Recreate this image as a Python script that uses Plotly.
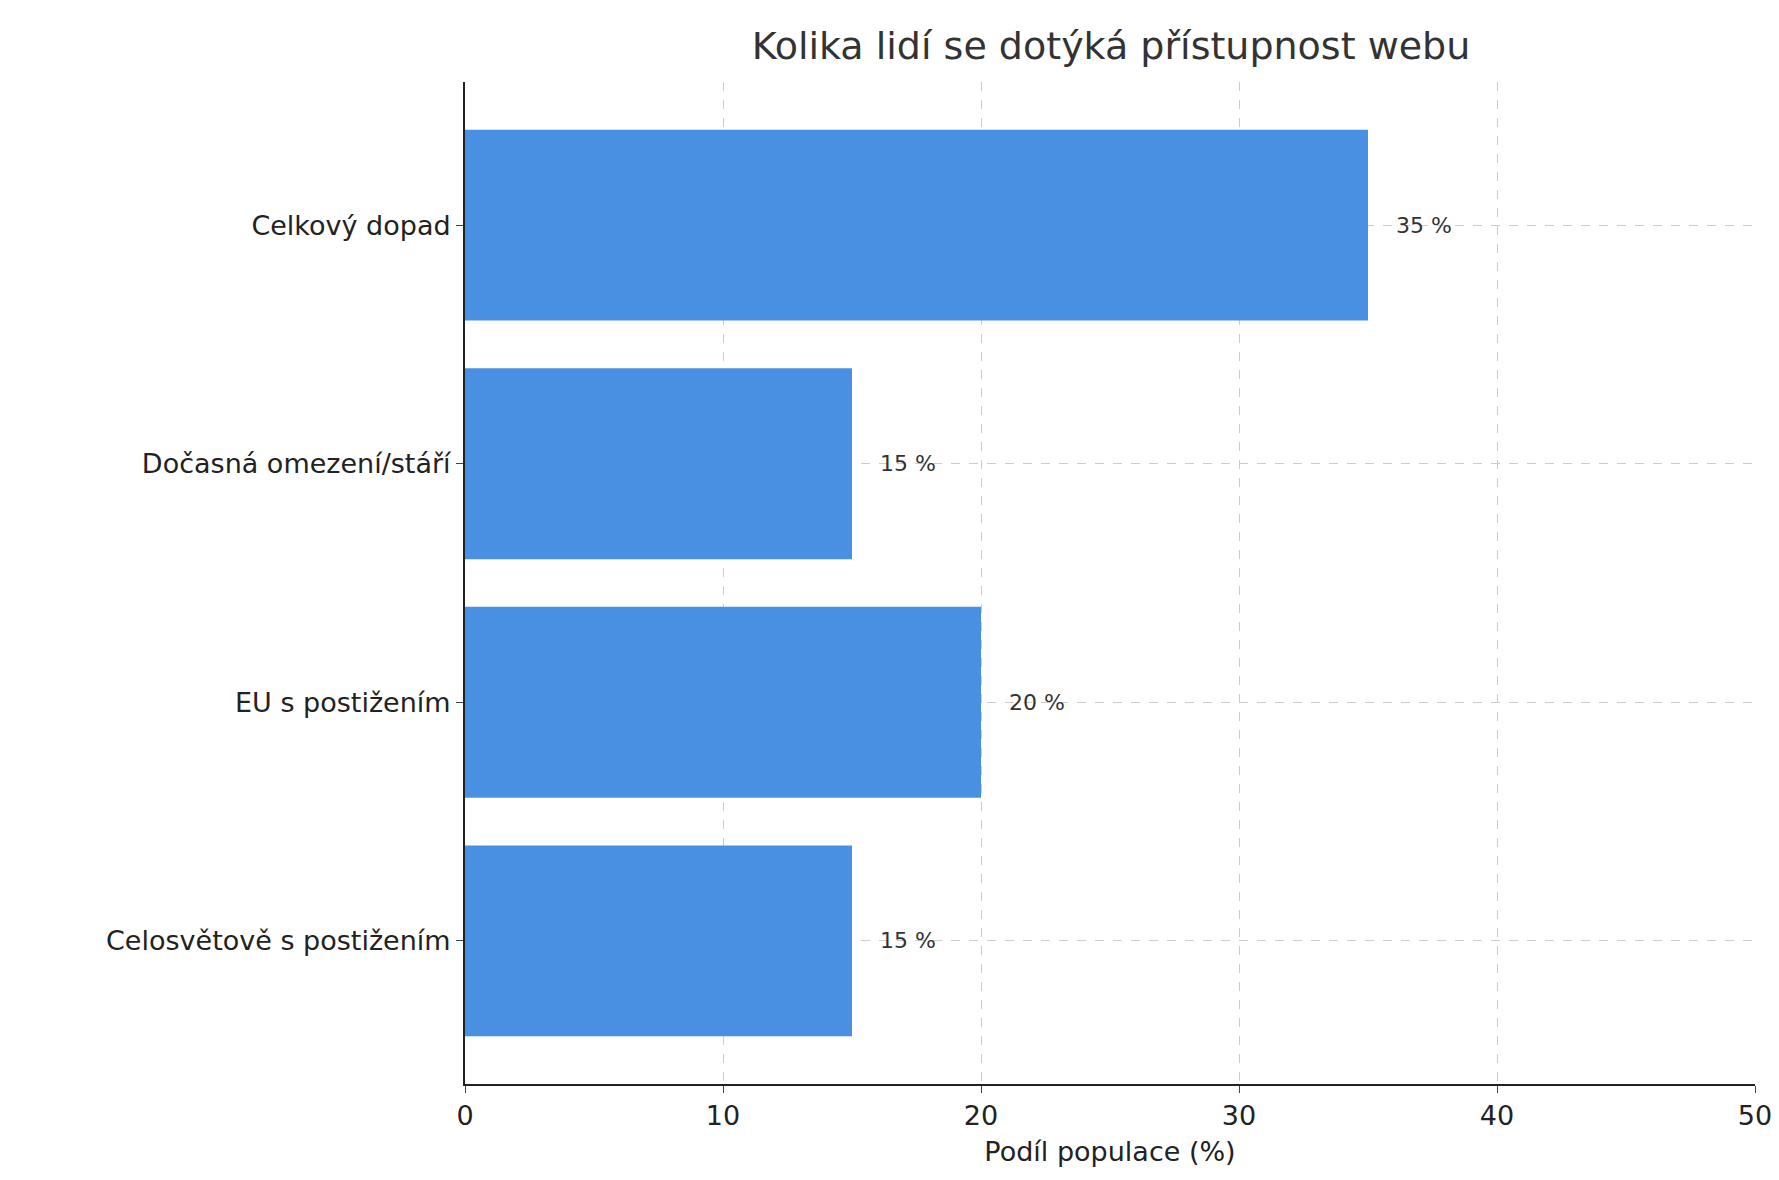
import plotly.graph_objects as go

categories = ["Celosvětově s postižením", "EU s postižením", "Dočasná omezení/stáří", "Celkový dopad"]
values = [15, 20, 15, 35]
labels = [f"{v} %" for v in values]

fig = go.Figure(go.Bar(
    x=values, y=categories, orientation="h", width=0.8,
    marker=dict(color="#4a90e2", line=dict(width=0)),
))
for c, v, t in zip(categories, values, labels):
    fig.add_annotation(x=v + 1, y=c, text=t, showarrow=False, xanchor="left",
                       font=dict(size=22, color="#333333", family="DejaVu Sans"))

fig.update_layout(
    width=1779, height=1180,
    paper_bgcolor="white", plot_bgcolor="white",
    margin=dict(l=457, r=32, t=74, b=104),
    font=dict(family="DejaVu Sans", color="#222222"),
    title=dict(text="Kolika lidí se dotýká přístupnost webu", x=0.62, xanchor="center",
               y=0.968, yanchor="middle", font=dict(size=38, color="#333333")),
    showlegend=False,
)
fig.update_xaxes(range=[0, 50], dtick=10, showgrid=True, gridcolor="#cccccc", griddash="dash",
                 showline=True, linecolor="#222222", linewidth=2, ticks="outside", ticklen=7,
                 tickfont=dict(size=27), zeroline=False,
                 title=dict(text="Podíl populace (%)", font=dict(size=27), standoff=12))
fig.update_yaxes(range=[-0.6, 3.6], showgrid=True, gridcolor="#cccccc", griddash="dash",
                 showline=True, linecolor="#222222", linewidth=2, ticks="outside", ticklen=7,
                 tickfont=dict(size=27), zeroline=False)
fig.write_html("out.html")
